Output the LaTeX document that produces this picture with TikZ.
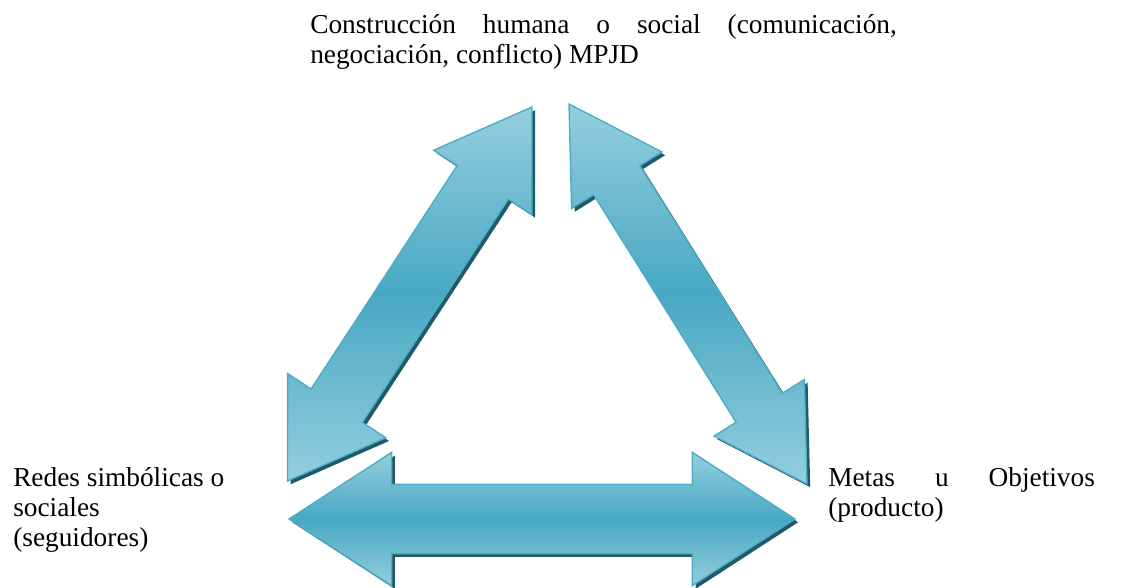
\documentclass[tikz,border=0pt]{standalone}
\usepackage{fontspec}
\setmainfont{Liberation Serif}
\usetikzlibrary{calc}
\definecolor{arrowlight}{RGB}{148,206,221}
\definecolor{arrowdark}{RGB}{72,168,196}
\definecolor{arrowedge}{RGB}{75,172,198}
\definecolor{arrowshadow}{RGB}{33,89,104}
\tikzset{
x=0.75pt, y=-0.75pt, % one unit is one pixel of the page, y runs downwards
arrowbody/.style={draw=arrowedge, line width=1pt, top color=arrowlight, bottom color=arrowlight, middle color=arrowdark,
  preaction={fill=arrowshadow, transform canvas={shift={(2.4pt,-2.4pt)}}}}, % shaded double arrow with its dark shadow
conceptbox/.style={inner sep=0pt, font=\fontsize{20.5pt}{22.5pt}\selectfont}, % the three texts
}
% double arrow from #1 to #2: head length #3, head half width #4, shaft half width #5
\newcommand{\dblarrow}[5]{%
  \coordinate (#1base) at ($(#1)!#3!(#2)$);
  \coordinate (#2base) at ($(#2)!#3!(#1)$);
  \draw[arrowbody] (#1)
    -- ($(#1base)!#4!90:(#2)$) -- ($(#1base)!#5!90:(#2)$)
    -- ($(#2base)!#5!-90:(#1)$) -- ($(#2base)!#4!-90:(#1)$)
    -- (#2)
    -- ($(#2base)!#4!90:(#1)$) -- ($(#2base)!#5!90:(#1)$)
    -- ($(#1base)!#5!-90:(#2)$) -- ($(#1base)!#4!-90:(#2)$)
    -- cycle;
}
\begin{document}
\begin{tikzpicture}
    \useasboundingbox (0,0) rectangle (1127,587);
    % texts
    \node[conceptbox, text width=440pt, align=justify, anchor=north west] (social) at (310,13)
      {\rule{0pt}{15pt}Construcción humana o social (comunicación,\linebreak negociación, conflicto) MPJD};
    \node[conceptbox, align=left, anchor=north west] (redes) at (13,466)
      {\rule{0pt}{15pt}Redes simbólicas o\\ sociales\\ (seguidores)};
    \node[conceptbox, text width=200pt, align=justify, anchor=north west] (metas) at (828,466)
      {\rule{0pt}{15pt}Metas u Objetivos\linebreak (producto)};
    % arrow tips
    \coordinate (lsw) at (287.5,481);
    \coordinate (lne) at (532,107);
    \coordinate (rnw) at (569,104);
    \coordinate (rse) at (807,484);
    \coordinate (bw) at (289,519);
    \coordinate (be) at (795,519);
    % arrows
    \dblarrow{lsw}{lne}{67.5pt}{44pt}{23pt}
    \dblarrow{rnw}{rse}{67.5pt}{40pt}{20.5pt}
    \dblarrow{bw}{be}{77pt}{50pt}{26pt}
\end{tikzpicture}
\end{document}
